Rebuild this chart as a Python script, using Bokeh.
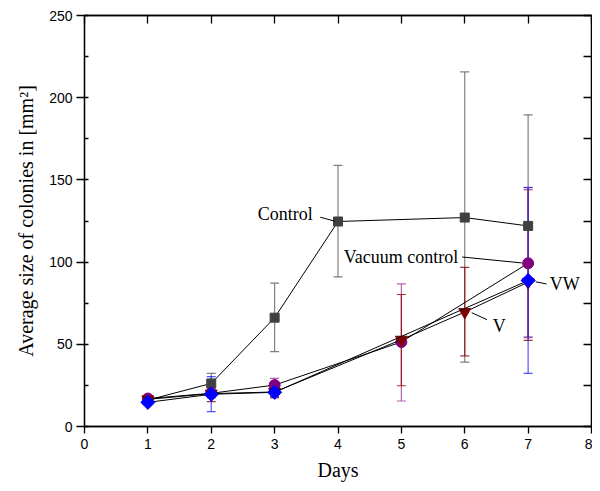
import math
from bokeh.plotting import figure
from bokeh.models import (ColumnDataSource, Whisker, TeeHead, LinearAxis, Range1d,
                          SingleIntervalTicker, Label)
from bokeh.embed import file_html
from bokeh.resources import INLINE

# ---------------- data ----------------
control_days = [1, 2, 3, 4, 6, 7]
control_mean = [16.1, 26.2, 66.2, 124.7, 127.1, 122.0]
control_up = [17.8, 32.3, 87.2, 158.8, 215.7, 189.6]
control_low = [14.4, 20.5, 45.6, 91.0, 39.2, 54.0]

vac_days = [1, 2, 3, 5, 7]
vac_mean = [17.0, 20.2, 25.2, 51.4, 99.3]
vac_up = [18.6, 23.0, 29.3, 86.7, 145.5]
vac_low = [15.4, 17.4, 17.5, 15.5, 54.5]

v_days = [1, 2, 3, 5, 6, 7]
v_mean = [16.5, 20.0, 21.0, 52.8, 69.6, 87.8]
v_up = [18.0, 25.0, 24.5, 80.3, 96.8, 144.0]
v_low = [15.0, 15.1, 17.5, 24.8, 43.0, 52.4]

vw_days = [1, 2, 3, 7]
vw_mean = [14.7, 19.6, 20.8, 88.8]
vw_up = [16.0, 30.3, 23.5, 145.3]
vw_low = [13.4, 9.1, 18.3, 32.3]

SANS = "Liberation Sans"
SERIF = "Liberation Serif"

p = figure(width=592, height=483, output_backend="svg", toolbar_location=None,
           x_range=Range1d(0, 8), y_range=Range1d(0, 250),
           min_border_left=84, min_border_right=1, min_border_top=15, min_border_bottom=55)
p.grid.visible = False
p.outline_line_color = "black"
p.outline_line_width = 1.3
p.background_fill_color = "white"
p.border_fill_color = "white"

# bottom axis
xa = p.xaxis[0]
xa.ticker = SingleIntervalTicker(interval=1, num_minor_ticks=0)
xa.axis_label = "Days"
xa.major_tick_out = 7
xa.major_tick_in = 0
xa.minor_tick_out = 0
xa.minor_tick_in = 0
xa.major_label_standoff = 5
xa.axis_label_standoff = 7
# left axis
ya = p.yaxis[0]
ya.ticker = SingleIntervalTicker(interval=50, num_minor_ticks=2)
ya.axis_label = "Average size of colonies in [mm\u00b2]"
ya.major_tick_out = 8
ya.major_tick_in = 0
ya.minor_tick_in = 4
ya.minor_tick_out = 0
ya.major_label_standoff = 4
ya.axis_label_standoff = 9
for ax in (xa, ya):
    ax.axis_line_color = "black"
    ax.axis_line_width = 1.3
    ax.major_tick_line_width = 1.3
    ax.minor_tick_line_width = 1.3
    ax.major_label_text_font = SANS
    ax.major_label_text_font_size = "14px"
    ax.major_label_text_color = "black"
    ax.axis_label_text_font = SERIF
    ax.axis_label_text_font_size = "20px"
    ax.axis_label_text_font_style = "normal"
    ax.axis_label_text_color = "black"

# top and right axes (ticks inside, no labels)
top = LinearAxis(ticker=SingleIntervalTicker(interval=1, num_minor_ticks=0),
                 major_tick_in=8, major_tick_out=0, minor_tick_in=0, minor_tick_out=0,
                 major_label_text_font_size="1px", major_label_text_color=None,
                 major_label_standoff=0,
                 axis_line_width=1.3, major_tick_line_width=1.3)
right = LinearAxis(ticker=SingleIntervalTicker(interval=25, num_minor_ticks=0),
                   major_tick_in=8, major_tick_out=0, minor_tick_in=0, minor_tick_out=0,
                   major_label_text_font_size="1px", major_label_text_color=None,
                   major_label_standoff=0,
                   axis_line_width=1.3, major_tick_line_width=1.3)
p.add_layout(top, "above")
p.add_layout(right, "right")

series = [
    (control_days, control_mean, control_up, control_low, "#404040", "#606060", "square", 9, 0.0),
    (vac_days, vac_mean, vac_up, vac_low, "#800080", "#a040a0", "circle", 11, 0.0),
    (v_days, v_mean, v_up, v_low, "#800000", "#900000", "inverted_triangle", 12, 0.0),
    (vw_days, vw_mean, vw_up, vw_low, "#0000ff", "#2a2aff", "square", 10, math.pi / 4),
]

for days, mean, up, low, col, ecol, marker, size, ang in series:
    src = ColumnDataSource(dict(x=days, y=mean, up=up, low=low))
    w = Whisker(source=src, base="x", upper="up", lower="low", dimension="height",
                line_color=ecol, line_width=1.2, line_alpha=0.8,
                upper_head=TeeHead(size=9, line_color=ecol, line_width=1.2, line_alpha=0.8),
                lower_head=TeeHead(size=9, line_color=ecol, line_width=1.2, line_alpha=0.8))
    p.add_layout(w)
    p.line("x", "y", source=src, line_color="black", line_width=1)
    p.scatter("x", "y", source=src, marker=marker, size=size, angle=ang,
              fill_color=col, line_color=col)

# annotations with leader lines
labels = [
    ("Control", 3.60, 129.0, "right"),
    ("Vacuum control", 4.09, 103.0, "left"),
    ("VW", 7.34, 86.7, "left"),
    ("V", 6.44, 61.3, "left"),
]
for txt, lx, ly, align in labels:
    p.add_layout(Label(x=lx, y=ly, text=txt, text_align=align, text_baseline="middle",
                       text_font=SERIF, text_font_size="18px", text_color="black"))

lead_x0 = [3.72, 5.96, 7.12, 6.11]
lead_y0 = [127.3, 103.1, 88.0, 69.2]
lead_x1 = [3.95, 6.90, 7.29, 6.35]
lead_y1 = [124.9, 99.5, 86.7, 65.0]
p.segment(x0=lead_x0, y0=lead_y0, x1=lead_x1, y1=lead_y1, line_color="black", line_width=1)

open("out.html", "w").write(file_html(p, INLINE))
